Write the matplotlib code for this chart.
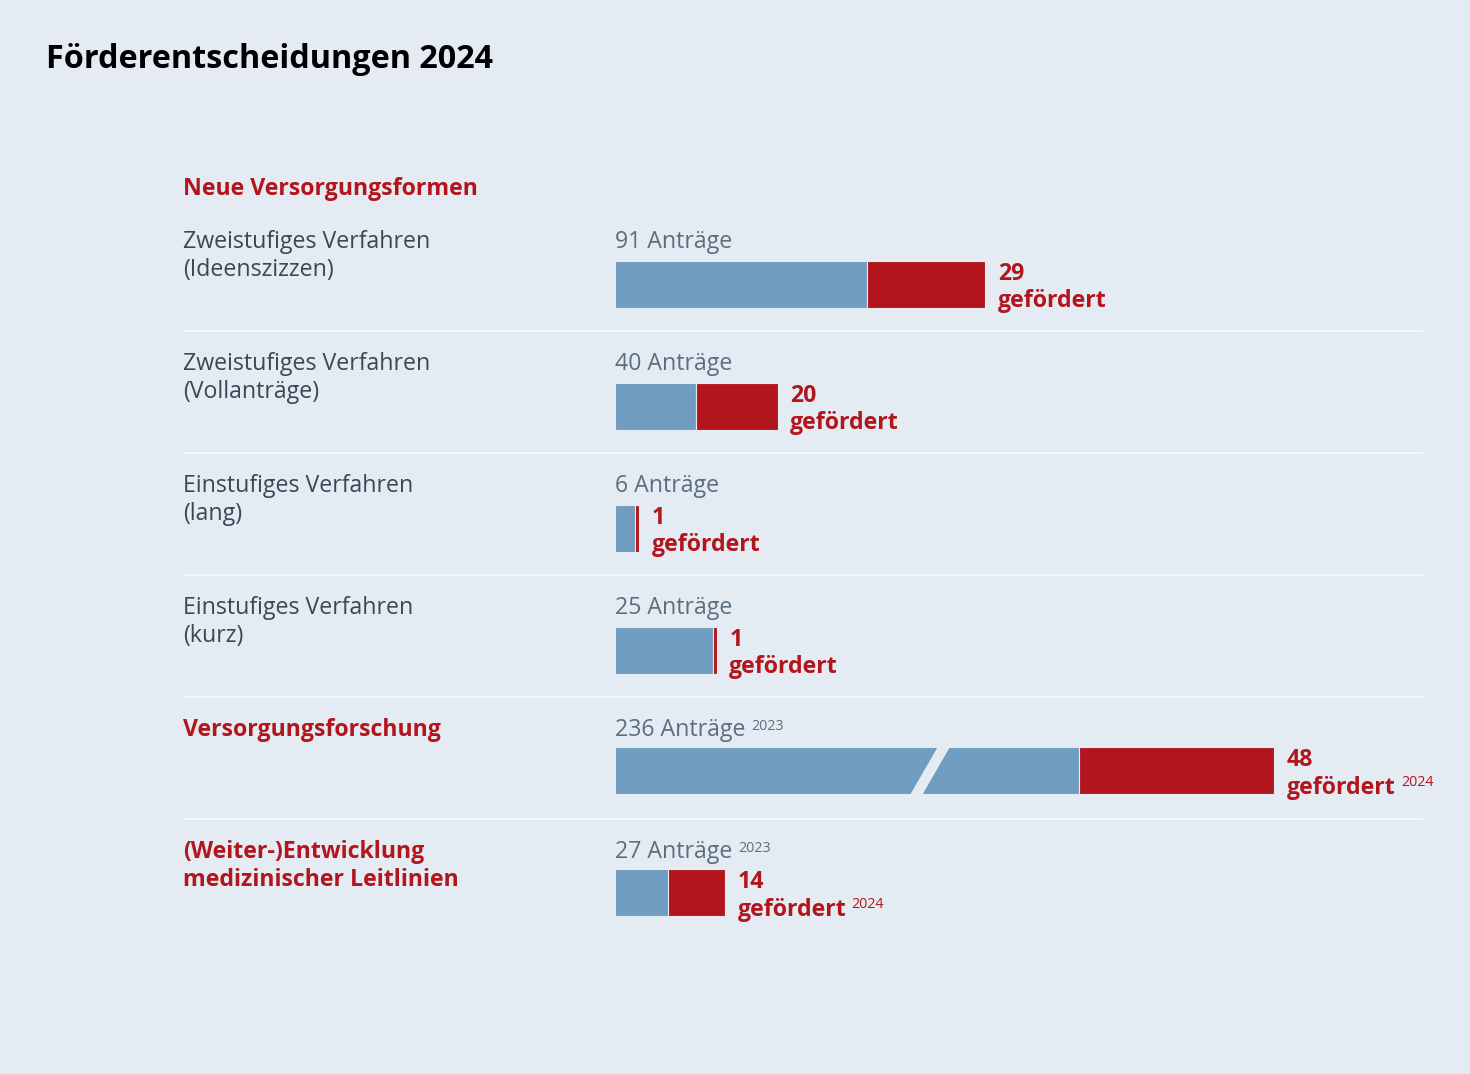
import matplotlib
matplotlib.use("Agg")
import matplotlib.pyplot as plt
from matplotlib.transforms import blended_transform_factory

# --- data ---
row_labels = [
    "Zweistufiges Verfahren\n(Ideenszizzen)",
    "Zweistufiges Verfahren\n(Vollanträge)",
    "Einstufiges Verfahren\n(lang)",
    "Einstufiges Verfahren\n(kurz)",
    "Versorgungsforschung",
    "(Weiter-)Entwicklung\nmedizinischer Leitlinien",
]
label_is_heading = [False, False, False, False, True, True]
antraege = [91, 40, 6, 25, 236, 27]
gefoerdert = [29, 20, 1, 1, 48, 14]
antraege_year = ["", "", "", "", "2023", "2023"]
gefoerdert_year = ["", "", "", "", "2024", "2024"]

# the long bar is drawn shortened with a break mark
BREAK_ROW = 4
BREAK_SKIP = 74
BREAK_AT = 77

BG = "#e4ebf3"
BLUE = "#6f9cc0"
RED = "#b2161c"
DARK = "#3b4755"
GREY = "#5b6e80"
SEP = "#f4f7fa"

plt.rcParams["font.family"] = ["Open Sans", "DejaVu Sans"]

W, H = 1470, 1074
fig = plt.figure(figsize=(W / 100, H / 100), dpi=100, facecolor=BG)

# axes for the bars, 1 unit = ~4.07 px, 1 row = 122 px
x0 = 615
px_per_unit = 4.07
row_px = 122
top_px = 209
ax = fig.add_axes([x0 / W, 0, 1 - x0 / W, 1])
ax.set_facecolor(BG)
ax.set_xlim(0, (W - x0) / px_per_unit)
ax.set_ylim((H - top_px) / row_px, -top_px / row_px)
ax.axis("off")

fig_x = blended_transform_factory(fig.transFigure, ax.transData)

fig.text(46 / W, 1 - 59 / H, "Förderentscheidungen 2024", fontsize=23.3,
         fontweight="bold", color="black", va="center", ha="left")

ax.text(183 / W, -0.165, "Neue Versorgungsformen", transform=fig_x,
        fontsize=16.7, fontweight="bold", color=RED, va="center", ha="left")

FS = 16.7
bar_h = 0.385
for i in range(len(antraege)):
    yc = i + (0.6 if label_is_heading[i] else 0.615)
    total = antraege[i]
    if i == BREAK_ROW:
        total = total - BREAK_SKIP
    blue_len = total - gefoerdert[i]

    ax.barh(yc, blue_len, left=0, height=bar_h, color=BLUE,
            edgecolor=BG, linewidth=0.8)
    ax.barh(yc, gefoerdert[i], left=blue_len, height=bar_h, color=RED,
            edgecolor=BG, linewidth=0.8)

    if i == BREAK_ROW:
        yb, yt = yc + bar_h / 2 + 0.01, yc - bar_h / 2 - 0.01
        ax.fill([BREAK_AT - 4.5, BREAK_AT - 1.5, BREAK_AT + 5.5, BREAK_AT + 2.5],
                [yb, yb, yt, yt], color=BG, lw=0)

    # left label
    ax.text(183 / W, i + 0.175, row_labels[i], transform=fig_x,
            fontsize=FS, va="top", ha="left", linespacing=1.2,
            color=RED if label_is_heading[i] else DARK,
            fontweight="bold" if label_is_heading[i] else "normal")

    # applications label
    t1 = ax.text(0, i + 0.27, f"{antraege[i]} Anträge", fontsize=FS,
                 color=GREY, va="center", ha="left")
    if antraege_year[i]:
        ax.annotate(antraege_year[i], xy=(1, 1), xycoords=t1,
                    xytext=(4, -1), textcoords="offset points",
                    fontsize=10.3, color=GREY, va="top", ha="left")

    # funded label
    t2 = ax.annotate(f"{gefoerdert[i]}\ngefördert", xy=(total, yc + 0.03),
                     xytext=(9, 0), textcoords="offset points",
                     fontsize=FS, fontweight="bold", color=RED,
                     va="center", ha="left", linespacing=1.2)
    if gefoerdert_year[i]:
        ax.annotate(gefoerdert_year[i], xy=(1, 0.5), xycoords=t2,
                    xytext=(4, -1), textcoords="offset points",
                    fontsize=10.3, color=RED, va="top", ha="left")

# separators
for k in range(1, len(antraege)):
    ax.plot([183 / W, 1423 / W], [k, k], transform=fig_x, color=SEP,
            lw=1.5, clip_on=False, solid_capstyle="butt")

fig.savefig("out.png", dpi=100, facecolor=BG)
